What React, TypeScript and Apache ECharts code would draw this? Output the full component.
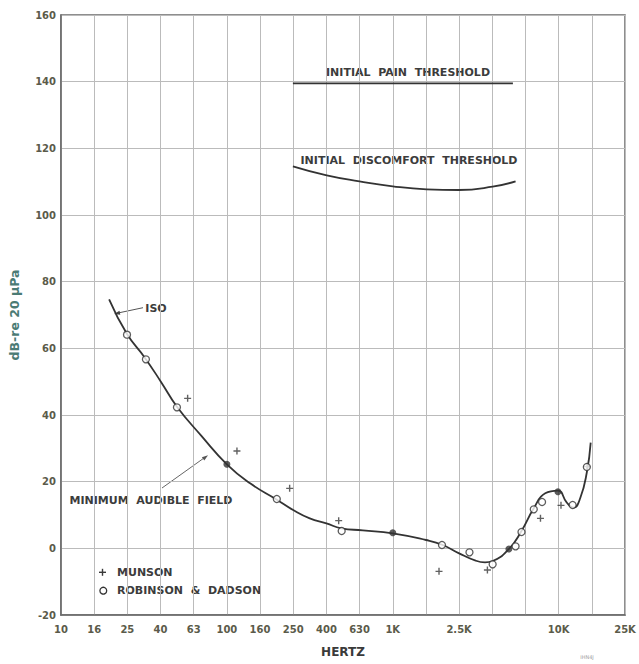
import React, { useEffect, useRef } from "react";
import * as echarts from "echarts";

// x tick labels (one per 1/5 decade, from 10 Hz to 25 kHz)
const tickLabels = ["10", "16", "25", "40", "63", "100", "160", "250", "400", "630", "1K", "", "2.5K", "", "", "10K", "", "25K"];

// ISO minimum audible field curve
const isoHz = [19.5, 25, 32, 40, 50, 70, 100, 138, 200, 251, 316, 398, 490, 660, 1000, 1585, 2000, 2512, 3160, 3600, 4000, 5012, 5970, 7080, 8300, 9900, 11200, 12300, 13500, 14800, 15600];
const isoDb = [74.7, 64.3, 57.2, 50, 42.5, 33.8, 25.2, 19.5, 14.6, 11.5, 9.0, 7.5, 6.0, 5.4, 4.5, 2.5, 1.0, -1.5, -3.7, -4.2, -3.8, -0.2, 5.2, 12.0, 16.5, 17.3, 13.7, 12.2, 15.1, 22.9, 31.7];

// Munson (+)
const munsonHz = [58, 115, 239, 472, 1900, 3720, 7770, 10330, 14790];
const munsonDb = [45, 29.2, 18, 8.3, -6.9, -6.5, 9.0, 12.9, 24.5];

// Robinson & Dadson (o)
const rdHz = [25, 32.5, 50, 200, 492, 1980, 2900, 4000, 5500, 5970, 7080, 7943, 12140, 14790];
const rdDb = [64.1, 56.7, 42.3, 14.8, 5.2, 1.0, -1.2, -4.8, 0.6, 4.9, 11.7, 13.9, 13.0, 24.4];

// coincident points (filled)
const bothHz = [100, 1000, 5012, 9900];
const bothDb = [25.2, 4.7, -0.2, 17.0];

// Initial pain threshold
const painHz = [250, 5300];
const painDb = [139.5, 139.5];

// Initial discomfort threshold
const discHz = [250, 400, 630, 1000, 1600, 2500, 4000, 5500];
const discDb = [114.6, 111.9, 110.1, 108.6, 107.7, 107.5, 108.5, 110.1];

const toXY = (hz: number[], db: number[]) => hz.map((f, i) => [Math.log10(f), db[i]]);

const PLUS = "path://M4,0H6V4H10V6H6V10H4V6H0V4H4Z";
const INK = "#333333";
const FONT = "DejaVu Sans";

export default function App() {
  const ref = useRef<HTMLDivElement>(null);
  useEffect(() => {
    const chart = echarts.init(ref.current!, null, { renderer: "svg" });
    const lblStyle = { fontFamily: FONT, fontWeight: "bold", fontSize: 11, fill: "#3c3c3c" };
    chart.setOption({
      animation: false,
      backgroundColor: "#ffffff",
      grid: { left: 55, right: 14, top: 15, bottom: 49, show: true, borderColor: "#6a6a6a", borderWidth: 1.5 },
      xAxis: {
        type: "value",
        min: 1,
        max: 4.4,
        interval: 0.2,
        name: "HERTZ",
        nameLocation: "middle",
        nameGap: 31,
        nameTextStyle: { fontFamily: FONT, fontWeight: "bold", fontSize: 12, color: "#3a3a3a" },
        axisLine: { show: true, onZero: false, lineStyle: { color: "#6a6a6a", width: 1.5 } },
        axisTick: { show: false },
        splitLine: { show: true, lineStyle: { color: "#bbbbbb", width: 1 } },
        axisLabel: {
          margin: 9,
          fontFamily: FONT,
          fontWeight: "bold",
          fontSize: 10,
          color: "#5b5b4a",
          showMinLabel: true,
          showMaxLabel: true,
          formatter: (v: number) => tickLabels[Math.round((v - 1) * 5)] ?? "",
        },
      },
      yAxis: {
        type: "value",
        min: -20,
        max: 160,
        interval: 20,
        name: "dB-re 20 μPa",
        nameLocation: "middle",
        nameGap: 40,
        nameRotate: 90,
        nameTextStyle: { fontFamily: FONT, fontWeight: "bold", fontSize: 12.5, color: "#4b7b74" },
        axisLine: { show: true, onZero: false, lineStyle: { color: "#6a6a6a", width: 1.5 } },
        axisTick: { show: false },
        splitLine: { show: true, lineStyle: { color: "#bbbbbb", width: 1 } },
        axisLabel: { margin: 5, fontFamily: FONT, fontWeight: "bold", fontSize: 10, color: "#5b5b4a" },
      },
      series: [
        {
          name: "ISO",
          type: "line",
          smooth: 0.5,
          showSymbol: false,
          data: toXY(isoHz, isoDb),
          lineStyle: { color: INK, width: 1.8 },
          z: 3,
        },
        {
          name: "INITIAL PAIN THRESHOLD",
          type: "line",
          showSymbol: false,
          data: toXY(painHz, painDb),
          lineStyle: { color: INK, width: 1.8 },
        },
        {
          name: "INITIAL DISCOMFORT THRESHOLD",
          type: "line",
          smooth: 0.5,
          showSymbol: false,
          data: toXY(discHz, discDb),
          lineStyle: { color: INK, width: 1.8 },
        },
        {
          name: "MUNSON",
          type: "scatter",
          symbol: PLUS,
          symbolSize: 7,
          data: toXY(munsonHz, munsonDb),
          itemStyle: { color: "#3a3a3a" },
          z: 4,
        },
        {
          name: "ROBINSON & DADSON",
          type: "scatter",
          symbol: "circle",
          symbolSize: 7,
          data: toXY(rdHz, rdDb),
          itemStyle: { color: "#ffffff", borderColor: INK, borderWidth: 1.3 },
          z: 5,
        },
        {
          name: "coincident",
          type: "scatter",
          symbol: "circle",
          symbolSize: 7,
          data: toXY(bothHz, bothDb),
          itemStyle: { color: INK },
          z: 6,
        },
      ],
      graphic: [
        { type: "text", x: 408, y: 72, style: { ...lblStyle, text: "INITIAL  PAIN  THRESHOLD", align: "center", verticalAlign: "middle" } },
        { type: "text", x: 409, y: 160, style: { ...lblStyle, text: "INITIAL  DISCOMFORT  THRESHOLD", align: "center", verticalAlign: "middle" } },
        { type: "text", x: 156, y: 308, style: { ...lblStyle, text: "ISO", align: "center", verticalAlign: "middle" } },
        { type: "text", x: 151, y: 500, style: { ...lblStyle, text: "MINIMUM  AUDIBLE  FIELD", align: "center", verticalAlign: "middle" } },
        // ISO leader
        { type: "line", shape: { x1: 143, y1: 307.7, x2: 118, y2: 313 }, style: { stroke: "#555", lineWidth: 1 } },
        { type: "polygon", shape: { points: [[114, 314], [120.3, 314.8], [119.5, 310.8]] }, style: { fill: "#444" } },
        // MAF leader
        { type: "line", shape: { x1: 162, y1: 488, x2: 204, y2: 458 }, style: { stroke: "#666", lineWidth: 1 } },
        { type: "polygon", shape: { points: [[208, 455.3], [204.3, 460.4], [201.9, 457.2]] }, style: { fill: "#555" } },
        // legend
        { type: "rect", shape: { x: 99, y: 571.6, width: 7, height: 1.4 }, style: { fill: "#3a3a3a" } },
        { type: "rect", shape: { x: 101.8, y: 568.8, width: 1.4, height: 7 }, style: { fill: "#3a3a3a" } },
        { type: "text", x: 117, y: 572.3, style: { ...lblStyle, text: "MUNSON", align: "left", verticalAlign: "middle" } },
        { type: "circle", shape: { cx: 103.3, cy: 590.7, r: 3.4 }, style: { fill: "#fff", stroke: INK, lineWidth: 1.3 } },
        { type: "text", x: 117, y: 590.7, style: { ...lblStyle, text: "ROBINSON  &  DADSON", align: "left", verticalAlign: "middle" } },
        { type: "text", x: 587, y: 657, style: { fontFamily: FONT, fontSize: 5, fill: "#a0a0a0", text: "IHN4J", align: "center", verticalAlign: "middle" } },
      ],
    });
    return () => chart.dispose();
  }, []);
  return <div ref={ref} style={{ position: "absolute", left: 0, top: 0, width: 639, height: 664 }} />;
}
